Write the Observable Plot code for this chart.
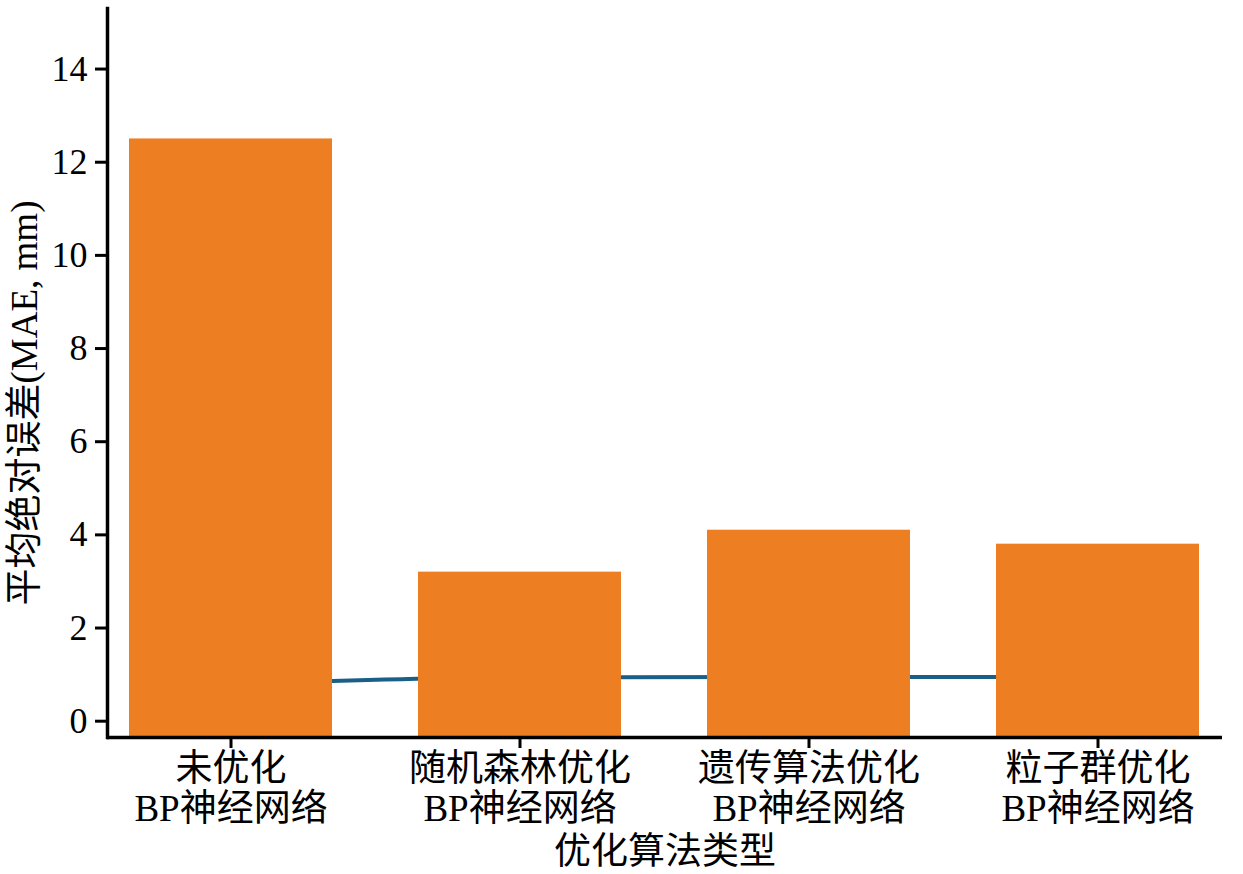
<!DOCTYPE html>
<html><head><meta charset="utf-8">
<script src="https://cdn.jsdelivr.net/npm/d3@7"></script>
<script src="https://cdn.jsdelivr.net/npm/@observablehq/plot@0.6"></script>
<style>body{margin:0;background:#fff}</style>
</head><body><div id="chart"></div>
<script>
const categories = ["未优化\nBP神经网络", "随机森林优化\nBP神经网络", "遗传算法优化\nBP神经网络", "粒子群优化\nBP神经网络"];
const maeValues = [12.5, 3.2, 4.1, 3.8];
const lineValues = [0.8, 0.94, 0.95, 0.95];
const yTicks = [0, 2, 4, 6, 8, 10, 12, 14];
const yDomain = [-0.35, 15.3];
const yLabel = "平均绝对误差(MAE, mm)";
const xLabel = "优化算法类型";

const data = categories.map((c, i) => ({cat: c, mae: maeValues[i], line: lineValues[i]}));
const font = '"Liberation Serif", "Noto Sans CJK SC", serif';

const chart = Plot.plot({
  width: 1243,
  height: 874,
  marginLeft: 107,
  marginRight: 21,
  marginTop: 8,
  marginBottom: 137,
  style: {fontFamily: font, color: "black", background: "white"},
  x: {domain: categories, paddingInner: 0.296, paddingOuter: 0.0725},
  y: {domain: yDomain},
  marks: [
    Plot.lineY(data, {x: "cat", y: "line", stroke: "#1a5f86", strokeWidth: 4, curve: "monotone-x"}),
    Plot.barY(data, {x: "cat", y1: () => yDomain[0], y2: "mae", fill: "#ee7e22"}),
    Plot.axisY({ticks: yTicks, tickSize: 12, tickPadding: 8, fontSize: 36, strokeWidth: 3, label: null}),
    Plot.axisX({tickSize: 11, tickPadding: 4, fontSize: 37, strokeWidth: 3, lineHeight: 1.08, label: null}),
    Plot.text([yLabel], {text: d => d, frameAnchor: "left", rotate: -90, dx: -82, dy: 30,
      fontSize: 37, textAnchor: "middle", lineAnchor: "middle", fill: "black"}),
    Plot.text([xLabel], {text: d => d, frameAnchor: "bottom", dy: 115,
      fontSize: 37, textAnchor: "middle", lineAnchor: "middle", fill: "black"}),
    Plot.ruleY([yDomain[0]], {stroke: "black", strokeWidth: 3.5}),
    Plot.frame({anchor: "left", stroke: "black", strokeWidth: 3.5})
  ]
});
document.getElementById("chart").appendChild(chart);
</script>
</body></html>
